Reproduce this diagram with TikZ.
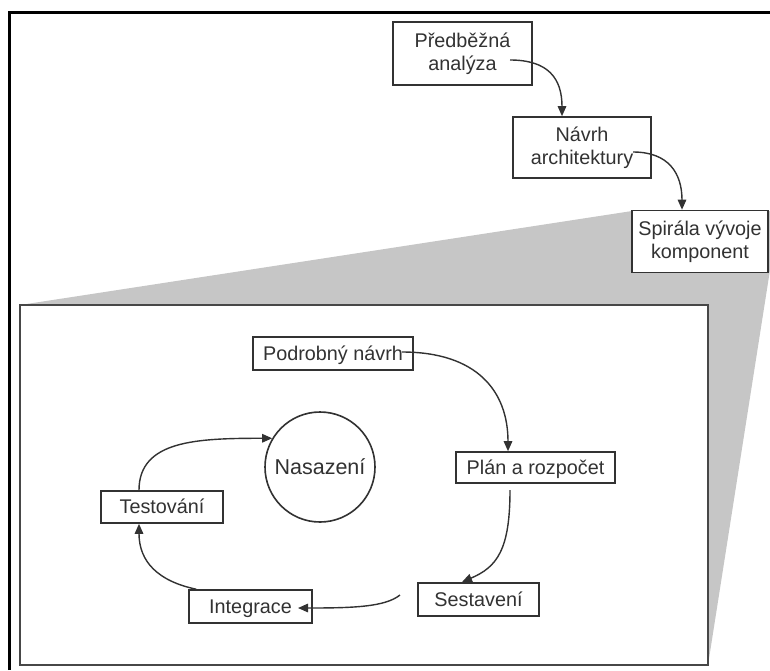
\documentclass[tikz,border=0pt]{standalone}
\usepackage{fontspec}
\setmainfont{Liberation Sans}
\usetikzlibrary{arrows.meta,calc}
\definecolor{fangray}{RGB}{198,198,198}
\definecolor{ink}{RGB}{50,50,50}
\begin{document}
\begin{tikzpicture}[x=1pt,y=-1pt,
  every node/.style={font=\fontsize{19.8}{23}\selectfont, text=ink},
  stepbox/.style={draw=ink, line width=1.6pt, fill=white, inner sep=0pt, align=center},
  onebox/.style={stepbox, text height=14.5pt, text depth=1pt},
  flow/.style={draw=ink, line width=1.4pt, -{Triangle[length=10pt,width=8.5pt]}}
]
\useasboundingbox (0,0) rectangle (770,670);

% page frame
\draw[line width=3pt] (9,670) -- (9,12) -- (770,12);

% fan opening from the component spiral into the detail panel
\fill[fangray] (20,305) -- (632,211) -- (770,211) -- (770,270) -- (708,665) -- (708,305) -- cycle;
\node[draw=ink!90, line width=1.6pt, fill=white, minimum width=688pt, minimum height=360pt, inner sep=0pt] (panel) at (364,485) {};

% top-level process
\node[stepbox, minimum width=139pt, minimum height=63pt] (pa) at (462.5,53.5) {Předběžná\\analýza};
\node[stepbox, minimum width=138pt, minimum height=61pt] (nav) at (582,147.5) {Návrh\\architektury};
\node[stepbox, minimum width=136pt, minimum height=62pt] (spi) at (700,241.5) {Spirála vývoje\\komponent};

% component spiral
\node[onebox, minimum width=160pt, minimum height=33pt] (pod) at (333,353.5) {Podrobný návrh};
\node[onebox, minimum width=159pt, minimum height=31pt] (plan) at (535.5,467.5) {Plán a rozpočet};
\node[circle, draw=ink, line width=1.6pt, minimum size=110pt, inner sep=0pt, font=\fontsize{21.5}{24}\selectfont] (nas) at (320,467) {Nasazení};
\node[onebox, minimum width=122pt, minimum height=32pt] (test) at (162,507) {Testování};
\node[onebox, minimum width=123pt, minimum height=33pt] (int) at (250.5,606.5) {Integrace};
\node[onebox, minimum width=121pt, minimum height=33pt] (ses) at (478.5,599.5) {Sestavení};

% connector ends
\coordinate (pa-out) at (510,60);
\coordinate (nav-in) at ($(nav.north)+(-20,0)$);
\coordinate (nav-out) at (633,152);
\coordinate (spi-in) at ($(spi.north)+(-18,0)$);
\coordinate (pod-out) at (402,352);
\coordinate (plan-in) at ($(plan.north)+(-27.5,0)$);
\coordinate (plan-out) at (510,490);
\coordinate (ses-in) at (462,582);
\coordinate (ses-out) at (400,595);
\coordinate (int-in) at (298,608);
\coordinate (int-out) at ($(int.north west)+(8,0)$);
\coordinate (test-in) at ($(test.south)+(-23,0)$);
\coordinate (test-out) at ($(test.north)+(-23,0)$);

% connectors
\draw[flow] (pa-out) .. controls +(38,0) and +(0,-38) .. (nav-in);
\draw[flow] (nav-out) .. controls +(36,0) and +(0,-36) .. (spi-in);
\draw[flow] (pod-out) .. controls +(75,0) and +(0,-60) .. (plan-in);
\draw[flow] (plan-out) .. controls +(0,60) and +(35,-15) .. (ses-in);
\draw[flow] (ses-out) .. controls +(-15,12) and +(55,0) .. (int-in);
\draw[flow] (int-out) .. controls +(-38,-8) and +(0,38) .. (test-in);
\draw[flow] (test-out) .. controls +(0,-50) and +(-75,0) .. (nas.149);
\end{tikzpicture}
\end{document}
